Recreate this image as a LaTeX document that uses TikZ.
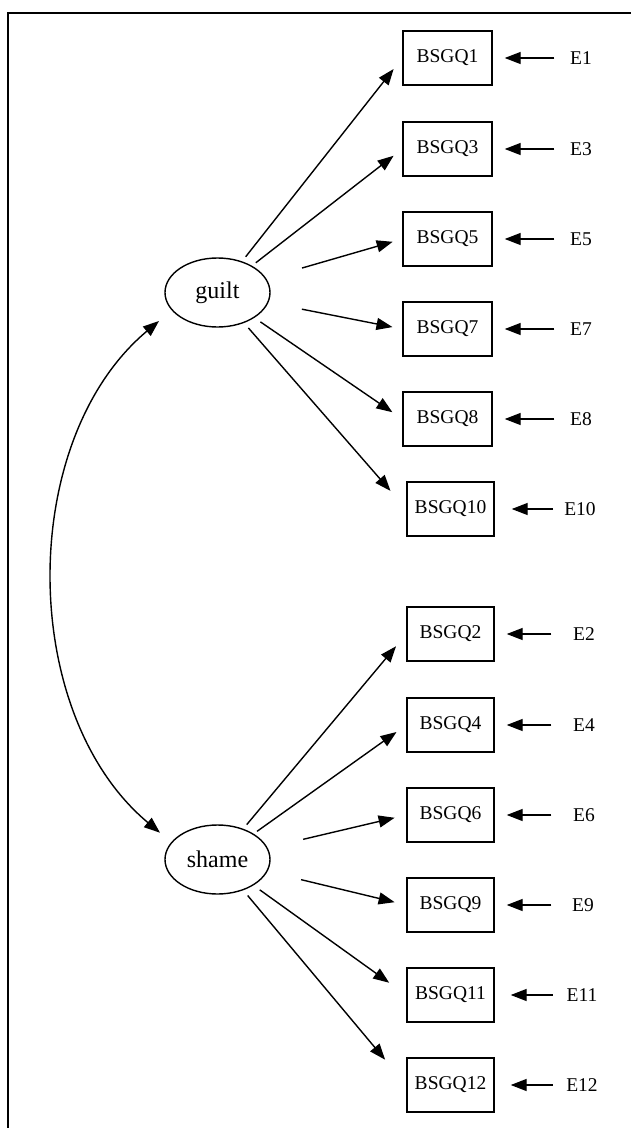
\documentclass[tikz,border=0pt]{standalone}
\usepackage{fontspec}
\setmainfont{Liberation Serif}
\usetikzlibrary{arrows.meta,shapes.geometric}
\begin{document}
\begin{tikzpicture}[x=1pt,y=-1pt,
  every node/.style={font=\fontsize{19.5}{22}\selectfont},
  box/.style={draw, line width=1.4pt, minimum height=54pt, inner sep=0pt},
  gbox/.style={box, minimum width=89pt},
  sbox/.style={box, minimum width=87pt},
  latent/.style={draw, ellipse, line width=1.4pt, minimum width=105pt, minimum height=69pt, inner sep=0pt, font=\fontsize{24}{26}\selectfont},
  err/.style={inner sep=0pt},
  arr/.style={-{Triangle[length=16pt,width=12pt]}, line width=1.4pt},
  darr/.style={{Triangle[length=16pt,width=12pt]}-{Triangle[length=16pt,width=12pt]}, line width=1.4pt}
]
\useasboundingbox (0,0) rectangle (630,1128);
\draw[line width=1.6pt] (8,1140) -- (8,13) -- (640,13);

% latent variables
\node[latent] (guilt) at (217.5,292.5) {guilt};
\node[latent] (shame) at (217.5,859.5) {shame};

% guilt indicators
\node[gbox] (Q1) at (447.5,58) {BSGQ1};
\node[gbox] (Q3) at (447.5,149) {BSGQ3};
\node[gbox] (Q5) at (447.5,239) {BSGQ5};
\node[gbox] (Q7) at (447.5,329) {BSGQ7};
\node[gbox] (Q8) at (447.5,419) {BSGQ8};
\node[sbox] (Q10) at (450.5,509) {BSGQ10};

% shame indicators
\node[sbox] (Q2) at (450.5,634) {BSGQ2};
\node[sbox] (Q4) at (450.5,725) {BSGQ4};
\node[sbox] (Q6) at (450.5,815) {BSGQ6};
\node[sbox] (Q9) at (450.5,905) {BSGQ9};
\node[sbox] (Q11) at (450.5,995) {BSGQ11};
\node[sbox] (Q12) at (450.5,1085) {BSGQ12};

% error terms
\node[err] (E1) at (581,58) {E1};
\node[err] (E3) at (581,149) {E3};
\node[err] (E5) at (581,239) {E5};
\node[err] (E7) at (581,329) {E7};
\node[err] (E8) at (581,419) {E8};
\node[err] (E10) at (580,509) {E10};
\node[err] (E2) at (584,634) {E2};
\node[err] (E4) at (584,725) {E4};
\node[err] (E6) at (584,815) {E6};
\node[err] (E9) at (583,905) {E9};
\node[err] (E11) at (582,995) {E11};
\node[err] (E12) at (582,1085) {E12};

% loadings from guilt
\draw[arr, shorten <=45.5pt, shorten >=14pt] (guilt.center) -- (Q1.west);
\draw[arr, shorten <=48.5pt, shorten >=11pt] (guilt.center) -- (Q3.west);
\draw[arr, shorten <=88pt, shorten >=10pt] (guilt.center) -- (Q5.west);
\draw[arr, shorten <=86pt, shorten >=10pt] (guilt.center) -- (Q7.west);
\draw[arr, shorten <=52pt, shorten >=12pt] (guilt.center) -- (Q8.west);
\draw[arr, shorten <=47pt, shorten >=24pt] (guilt.center) -- (Q10.west);

% loadings from shame
\draw[arr, shorten <=45.5pt, shorten >=16pt] (shame.center) -- (Q2.west);
\draw[arr, shorten <=48.5pt, shorten >=12pt] (shame.center) -- (Q4.west);
\draw[arr, shorten <=88pt, shorten >=12pt] (shame.center) -- (Q6.west);
\draw[arr, shorten <=86pt, shorten >=12pt] (shame.center) -- (Q9.west);
\draw[arr, shorten <=52pt, shorten >=21pt] (shame.center) -- (Q11.west);
\draw[arr, shorten <=47pt, shorten >=33pt] (shame.center) -- (Q12.west);

% error arrows
\draw[arr, shorten <=15.5pt, shorten >=12pt] (E1) -- (Q1);
\draw[arr, shorten <=15.5pt, shorten >=12pt] (E3) -- (Q3);
\draw[arr, shorten <=15.5pt, shorten >=12pt] (E5) -- (Q5);
\draw[arr, shorten <=15.5pt, shorten >=12pt] (E7) -- (Q7);
\draw[arr, shorten <=15.5pt, shorten >=12pt] (E8) -- (Q8);
\draw[arr, shorten <=11pt, shorten >=17pt] (E10) -- (Q10);
\draw[arr, shorten <=21.5pt, shorten >=12pt] (E2) -- (Q2);
\draw[arr, shorten <=21.5pt, shorten >=12pt] (E4) -- (Q4);
\draw[arr, shorten <=21.5pt, shorten >=12pt] (E6) -- (Q6);
\draw[arr, shorten <=20.5pt, shorten >=12pt] (E9) -- (Q9);
\draw[arr, shorten <=13.5pt, shorten >=16pt] (E11) -- (Q11);
\draw[arr, shorten <=13.5pt, shorten >=16pt] (E12) -- (Q12);

% covariance
\draw[darr] ([shift={(-58.5,28.5)}]guilt.center) .. controls ([shift={(-200.5,147.5)}]guilt.center) and ([shift={(-199.5,-145.5)}]shame.center) .. ([shift={(-57.5,-26.8)}]shame.center);
\end{tikzpicture}
\end{document}
